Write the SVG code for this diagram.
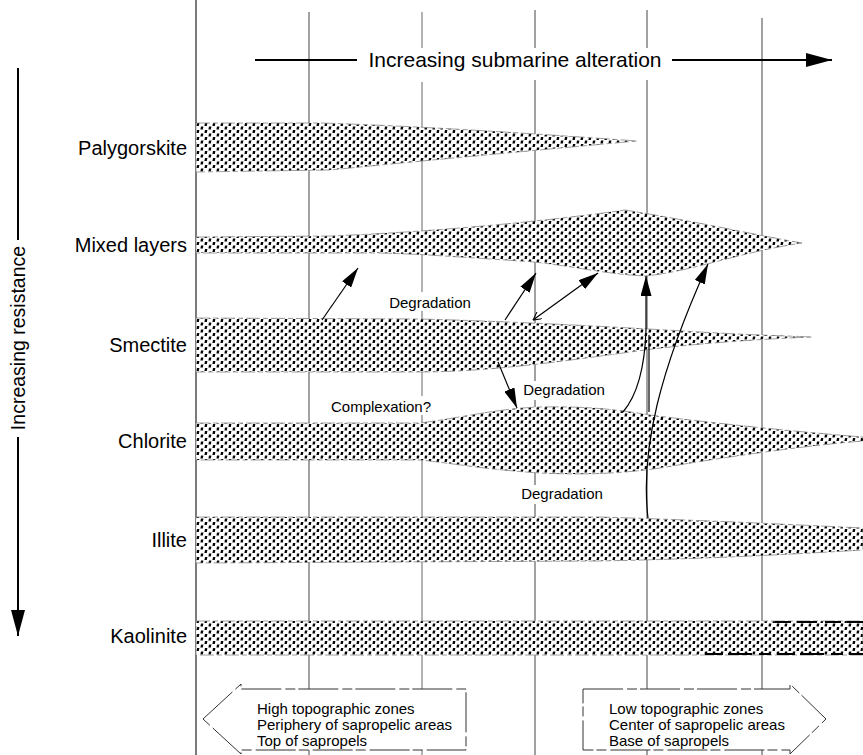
<svg xmlns="http://www.w3.org/2000/svg" width="863" height="755" viewBox="0 0 863 755">
<defs>
<pattern id="stip" width="8" height="7" patternUnits="userSpaceOnUse">
<path d="M1,0.5 L3.4,0.5 L2.8,3.6 L0.4,3.6 Z" fill="#000"/>
<path d="M5,4 L7.4,4 L6.8,7 L4.4,7 Z" fill="#000"/>
</pattern>
<marker id="ah" viewBox="0 0 20 11" refX="20" refY="5.5" markerWidth="20" markerHeight="11" markerUnits="userSpaceOnUse" orient="auto">
<path d="M0,0 L20,5.5 L0,11 z" fill="#000"/>
</marker>
<marker id="open" viewBox="0 0 9 9" refX="8.5" refY="4.5" markerWidth="9" markerHeight="9" markerUnits="userSpaceOnUse" orient="auto-start-reverse">
<path d="M0,0 L8.5,4.5 L0,9" fill="none" stroke="#000" stroke-width="1"/>
</marker>
<marker id="big" viewBox="0 0 26 14" refX="26" refY="7" markerWidth="26" markerHeight="14" markerUnits="userSpaceOnUse" orient="auto">
<path d="M0,0 L26,7 L0,14 z" fill="#000"/>
</marker>
</defs>
<style>
.grid{stroke:#444;stroke-width:1;fill:none}
.band{stroke:#888;stroke-width:0.8;stroke-dasharray:14 3 5 3}
.bg{fill:#fff}
.conn{stroke:#000;stroke-width:1.2;fill:none}
.lbl{font-family:"Liberation Sans",Arial,sans-serif;font-size:20px;fill:#000;text-anchor:end}
.small{font-family:"Liberation Sans",Arial,sans-serif;font-size:15px;fill:#000;text-anchor:middle}
.box{font-family:"Liberation Sans",Arial,sans-serif;font-size:15px;fill:#000}
.title{font-family:"Liberation Sans",Arial,sans-serif;font-size:21px;fill:#000;text-anchor:middle}
.outline{fill:#fff;stroke:#333;stroke-width:1;stroke-dasharray:40 4 10 3}
</style>
<rect width="863" height="755" fill="#fff"/>

<g id="grid">
<line class="grid" x1="196" y1="0" x2="196" y2="755" style="stroke:#222;stroke-width:1.2"/>
<line class="grid" x1="309" y1="12" x2="309" y2="755"/>
<line class="grid" x1="422" y1="12" x2="422" y2="48" style="stroke:#666"/>
<line class="grid" x1="422" y1="82" x2="422" y2="755" style="stroke:#666"/>
<line class="grid" x1="535" y1="10" x2="535" y2="48"/>
<line class="grid" x1="535" y1="80" x2="535" y2="755"/>
<line class="grid" x1="647" y1="10" x2="647" y2="48"/>
<line class="grid" x1="647" y1="80" x2="647" y2="755"/>
<line class="grid" x1="762" y1="18" x2="762" y2="755"/>
</g>

<g id="axis-top">
<line x1="255" y1="60" x2="357" y2="60" stroke="#000" stroke-width="2"/>
<line x1="672" y1="60" x2="832" y2="60" stroke="#000" stroke-width="2" marker-end="url(#big)"/>
<text class="title" x="515" y="67">Increasing submarine alteration</text>
</g>

<g id="axis-left">
<line x1="18" y1="68" x2="18" y2="240" stroke="#000" stroke-width="2"/>
<line x1="18" y1="437" x2="18" y2="636" stroke="#000" stroke-width="2" marker-end="url(#big)"/>
<text class="title" x="0" y="0" transform="translate(25,338) rotate(-90)" style="font-size:19.5px">Increasing resistance</text>
</g>

<g id="text-bg">
<rect class="bg" x="384" y="292" width="92" height="19"/>
<rect class="bg" x="326" y="396" width="110" height="19"/>
<rect class="bg" x="519" y="381" width="92" height="19"/>
<rect class="bg" x="515" y="485" width="94" height="19"/>
</g>

<g id="palygorskite">
<path class="bg" d="M196,123 L320,123 C420,126 540,134 637,141 C560,148 430,160 330,170 L196,172 Z"/>
<path class="band" fill="url(#stip)" d="M196,123 L320,123 C420,126 540,134 637,141 C560,148 430,160 330,170 L196,172 Z"/>
<text class="lbl" x="187" y="155">Palygorskite</text>
</g>

<g id="mixed-layers">
<path class="bg" d="M196,237 L330,236 C430,232 540,222 625,210 C700,222 760,236 802,243 C740,252 690,272 645,276 C600,274 560,263 520,261 C460,257 420,254 380,253 L196,253 Z"/>
<path class="band" fill="url(#stip)" d="M196,237 L330,236 C430,232 540,222 625,210 C700,222 760,236 802,243 C740,252 690,272 645,276 C600,274 560,263 520,261 C460,257 420,254 380,253 L196,253 Z"/>
<text class="lbl" x="187" y="252">Mixed layers</text>
</g>

<g id="smectite">
<path class="bg" d="M196,318 L420,319 C500,321 600,326 700,332 C750,335 790,336 812,337 C760,339 690,344 645,350 C600,356 560,362 520,366 C480,370 450,372 420,372 L196,372 Z"/>
<path class="band" fill="url(#stip)" d="M196,318 L420,319 C500,321 600,326 700,332 C750,335 790,336 812,337 C760,339 690,344 645,350 C600,356 560,362 520,366 C480,370 450,372 420,372 L196,372 Z"/>
<text class="lbl" x="187" y="352">Smectite</text>
</g>

<g id="chlorite">
<path class="bg" d="M196,423 L420,423 C460,418 500,408 540,407 C590,406 620,410 650,415 C720,424 800,432 863,437 L863,441 C800,446 720,458 660,468 C620,474 580,475 540,473 C490,470 450,463 420,460 L196,460 Z"/>
<path class="band" fill="url(#stip)" d="M196,423 L420,423 C460,418 500,408 540,407 C590,406 620,410 650,415 C720,424 800,432 863,437 L863,441 C800,446 720,458 660,468 C620,474 580,475 540,473 C490,470 450,463 420,460 L196,460 Z"/>
<text class="lbl" x="187" y="448">Chlorite</text>
</g>

<g id="illite">
<path class="bg" d="M196,517 L600,517 C700,520 800,525 863,528 L863,550 C780,555 700,559 600,561 L196,563 Z"/>
<path class="band" fill="url(#stip)" d="M196,517 L600,517 C700,520 800,525 863,528 L863,550 C780,555 700,559 600,561 L196,563 Z"/>
<text class="lbl" x="187" y="547">Illite</text>
</g>

<g id="kaolinite">
<path class="bg" d="M196,621 L863,621 L863,655 L196,655 Z"/>
<path class="band" fill="url(#stip)" d="M196,621 L863,621 L863,655 L196,655 Z"/>
<path d="M705,654 L863,654" stroke="#000" stroke-width="2.2" stroke-dasharray="18 5 24 7 12 6" fill="none"/>
<path d="M775,622 L863,622" stroke="#000" stroke-width="1.8" stroke-dasharray="16 6 20 8" fill="none"/>
<text class="lbl" x="187" y="643">Kaolinite</text>
</g>

<g id="connectors">
<path class="conn" d="M322,320 L358,268" marker-end="url(#ah)"/>
<path class="conn" d="M505,320 L536,273" marker-end="url(#ah)"/>
<path class="conn" d="M533,320 L598,273" marker-start="url(#open)" marker-end="url(#ah)"/>
<path class="conn" d="M498,362 L517,408" marker-end="url(#ah)"/>
<path class="conn" d="M623,412 C640,392 645,360 646,330 L646,276" marker-end="url(#ah)"/>
<path class="conn" d="M649,412 L649,335"/>
<path class="conn" d="M648,518 C640,450 660,370 708,264" marker-end="url(#ah)"/>
</g>

<g id="labels">
<text class="small" x="430" y="308">Degradation</text>
<text class="small" x="381" y="412">Complexation?</text>
<text class="small" x="564" y="395">Degradation</text>
<text class="small" x="562" y="499">Degradation</text>
</g>

<g id="high-zones">
<path class="outline" d="M203,719 L241,684 L241,689 L466,689 L466,750 L241,750 L241,754 Z"/>
<text class="box" x="257" y="714">High topographic zones</text>
<text class="box" x="257" y="730">Periphery of sapropelic areas</text>
<text class="box" x="257" y="746">Top of sapropels</text>
</g>

<g id="low-zones">
<path class="outline" d="M583,689 L790,689 L790,684 L826,719 L790,754 L790,750 L583,750 Z"/>
<text class="box" x="609" y="714">Low topographic zones</text>
<text class="box" x="609" y="730">Center of sapropelic areas</text>
<text class="box" x="609" y="746">Base of sapropels</text>
</g>
</svg>
